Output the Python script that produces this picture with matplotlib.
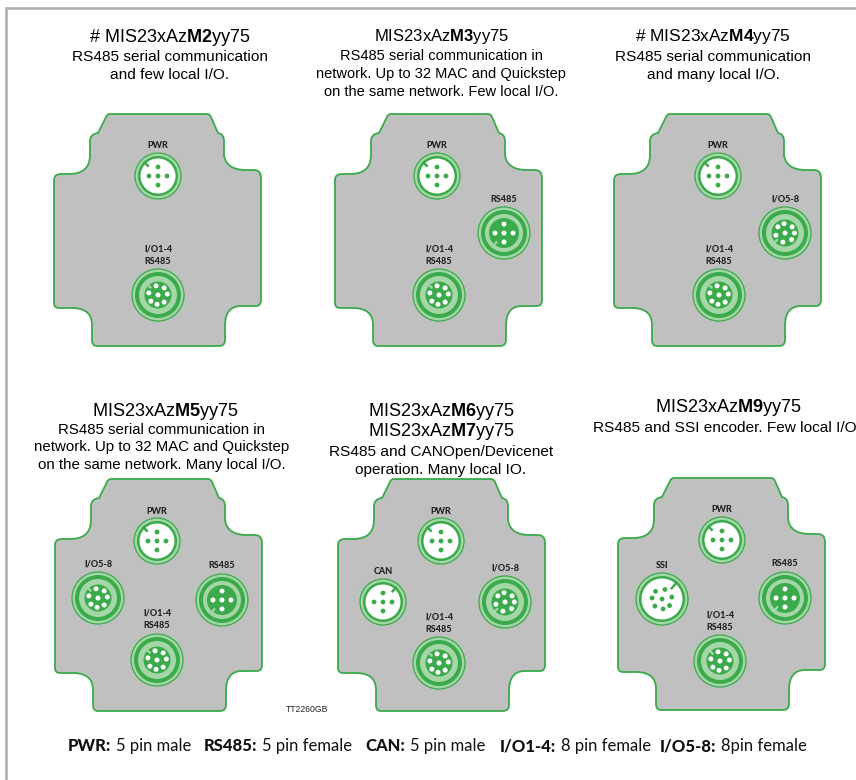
import matplotlib
matplotlib.use('Agg')
import matplotlib.pyplot as plt
import numpy as np
from matplotlib.patches import Circle, PathPatch
from matplotlib.path import Path

plt.rcParams['mathtext.fontset'] = 'custom'
plt.rcParams['mathtext.rm'] = 'Liberation Sans'
plt.rcParams['mathtext.bf'] = 'Liberation Sans:bold'

GREEN = '#3aaa4a'
LIGHT = '#a5d6a8'
PLATE = '#c0c0c0'
FRAME = '#b0b0b0'

# one block per motor variant: heading, description, plate corner
headings = [
    [('# MIS23xAz', 'M2', 'yy75')],
    [('MIS23xAz', 'M3', 'yy75')],
    [('# MIS23xAz', 'M4', 'yy75')],
    [('MIS23xAz', 'M5', 'yy75')],
    [('MIS23xAz', 'M6', 'yy75'), ('MIS23xAz', 'M7', 'yy75')],
    [('MIS23xAz', 'M9', 'yy75')],
]
descriptions = [
    ['RS485 serial communication', 'and few local I/O.'],
    ['RS485 serial communication in', 'network. Up to 32 MAC and Quickstep', 'on the same network. Few local I/O.'],
    ['RS485 serial communication', 'and many local I/O.'],
    ['RS485 serial communication in', 'network. Up to 32 MAC and Quickstep', 'on the same network. Many local I/O.'],
    ['RS485 and CANOpen/Devicenet', 'operation. Many local IO.'],
    ['RS485 and SSI encoder. Few local I/O'],
]
head_size = [13, 12, 12.5, 13.1, 13.1, 13.1]
desc_size = [11.1, 10.5, 11.1, 10.8, 11.1, 11.1]
head_x = [170, 442, 713, 166, 442, 729]
desc_x = [170, 441, 713, 162, 441, 725]
text_y = [37, 37, 37, 411, 411, 408]
desc_gap = [20, 19, 20, 18.5, 20.5, 20]
plate_x = [54, 335, 614, 55, 338, 618]
plate_y = [114, 114, 114, 479, 479, 478]

# connector name, pin layout, x and y on the plate
connectors = [
    [('PWR', 'm5', 104, 62), ('I/O1-4\nRS485', 'f8', 104, 181)],
    [('PWR', 'm5', 102, 62), ('RS485', 'f5', 169, 119), ('I/O1-4\nRS485', 'f8', 104, 181)],
    [('PWR', 'm5', 104, 62), ('I/O5-8', 'f8b', 171, 119), ('I/O1-4\nRS485', 'f8', 105, 181)],
    [('PWR', 'm5', 102, 62), ('I/O5-8', 'f8', 43, 119), ('RS485', 'f5', 167, 121), ('I/O1-4\nRS485', 'f8', 102, 181)],
    [('PWR', 'm5', 103, 62), ('CAN', 'm5c', 45, 123), ('I/O5-8', 'f8b', 167, 123), ('I/O1-4\nRS485', 'f8', 101, 184)],
    [('PWR', 'm5', 104, 62), ('SSI', 'm8', 44, 121), ('RS485', 'f5', 167, 120), ('I/O1-4\nRS485', 'f8', 102, 183)],
]

# pin angles round the centre pin, degrees clockwise from east on screen
pins_f8 = [-102, -49, -6, 49, 96, 139, 193]
pins_f8b = [-96, -41, 0, 45, 103, 166, 221]
pins_m8 = [-130, -73, -11, 41, 84, 135, 186]
notch_angle = {'m5': -135, 'm5c': -48, 'f5': 130, 'f8': -135, 'f8b': 138, 'm8': -48}

footer_names = ['PWR:', 'RS485:', 'CAN:', 'I/O1-4:', 'I/O5-8:']
footer_rest = ['5 pin male', '5 pin female', '5 pin male', '8 pin female', '8pin female']
footer_x = [68, 204, 365, 500, 660]


def plate_path(x0, y0):
    M, L, C = Path.MOVETO, Path.LINETO, Path.CURVE3
    v = [
        (56, 0, M), (153, 0, L), (156, 0, C), (157, 3, L), (164, 19, L), (170, 20, C), (170, 27, L),
        (170, 41, L), (172, 56, C), (192, 56, L), (200, 56, L), (207, 56, C), (207, 64, L),
        (207, 186, L), (207, 192, C), (202, 192, L), (187, 192, L), (171, 192, C), (171, 212, L),
        (171, 226, L), (171, 232, C), (165, 232, L), (43, 232, L), (38, 232, C), (38, 226, L),
        (38, 211, L), (38, 194, C), (18, 194, L), (5, 194, L), (0, 194, C), (0, 189, L),
        (0, 66, L), (0, 60, C), (7, 60, L), (15, 60, L), (36, 60, C), (36, 41, L),
        (36, 27, L), (36, 20, C), (44, 19, L), (52, 3, L), (53, 0, C), (56, 0, L),
    ]
    verts = [(x0 + a, y0 + b) for a, b, _ in v]
    return Path(verts, [c for _, _, c in v])


def pin_spots(kind):
    if kind in ('m5', 'm5c', 'f5'):
        return [(0, -9), (-9, 0), (0, 0), (9, 0), (0, 9)]
    angles = {'f8': pins_f8, 'f8b': pins_f8b, 'm8': pins_m8}[kind]
    r = 10 if kind == 'm8' else 9.4
    return [(0, 0)] + [(r * np.cos(np.deg2rad(a)), r * np.sin(np.deg2rad(a))) for a in angles]


def draw_connector(ax, cx, cy, kind):
    female = kind[0] == 'f'
    r = 23 if kind in ('m5', 'm5c') else 26
    k = r / 26
    # thin stray ticks outside the ring
    for (xa, ya, xb, yb) in ((15, -23, 22, -16), (-23, -15, -30, -8), (23, 14, 30, 7), (-12, 20, -4, 29)):
        ax.plot([cx + xa * k, cx + xb * k], [cy + ya * k, cy + yb * k], color=LIGHT, lw=0.8, zorder=3)
    ax.add_patch(Circle((cx, cy), r, fc=LIGHT, ec=GREEN, lw=0.9, zorder=4))
    ax.add_patch(Circle((cx, cy), r - 3, fc=GREEN, ec='none', zorder=5))
    t = np.deg2rad(notch_angle[kind])
    if female:
        core = 15 if kind == 'f5' else 13.5
        ax.add_patch(Circle((cx, cy), r - 7, fc=LIGHT, ec='none', zorder=6))
        ax.add_patch(Circle((cx, cy), core, fc=GREEN, ec='none', zorder=7))
        for dx, dy in pin_spots(kind):
            ax.add_patch(Circle((cx + dx, cy + dy), 2.5, fc='white', ec='none', zorder=8))
        ax.plot([cx + (core - 3) * np.cos(t), cx + core * np.cos(t)], [cy + (core - 3) * np.sin(t), cy + core * np.sin(t)],
                color=LIGHT, lw=1.6, zorder=8)
    else:
        ax.add_patch(Circle((cx, cy), r - 5.5, fc='white', ec='none', zorder=6))
        for dx, dy in pin_spots(kind):
            ax.add_patch(Circle((cx + dx, cy + dy), 2.4, fc=GREEN, ec='none', zorder=8))
        ax.plot([cx + 14.5 * np.cos(t), cx + (r - 4) * np.cos(t)], [cy + 14.5 * np.sin(t), cy + (r - 4) * np.sin(t)],
                color=GREEN, lw=1.8, zorder=8)


fig = plt.figure(figsize=(8.56, 7.8), dpi=100)
ax = fig.add_axes([0, 0, 1, 1])
ax.set_xlim(0, 856)
ax.set_ylim(780, 0)
ax.axis('off')

# page frame, only its left and top sides are in the picture
ax.plot([6, 6, 856], [780, 8, 8], color=FRAME, lw=1.9, solid_joinstyle='miter', zorder=1)

for i in range(len(headings)):
    y = text_y[i]
    for n, (before, bold, after) in enumerate(headings[i]):
        label = r'%s$\mathbf{%s}$%s' % (before, bold, after)
        ax.text(head_x[i], y + 20.5 * n, label, ha='center', va='center', fontsize=head_size[i],
                family='Liberation Sans', zorder=10)
    y += 20.5 * (len(headings[i]) - 1) + desc_gap[i]
    for line in descriptions[i]:
        ax.text(desc_x[i], y, line, ha='center', va='center', fontsize=desc_size[i], family='Liberation Sans',
                zorder=10)
        y += 18
    x0, y0 = plate_x[i], plate_y[i]
    ax.add_patch(PathPatch(plate_path(x0, y0), fc=PLATE, ec=GREEN, lw=1.3, zorder=2))
    for name, kind, cx, cy in connectors[i]:
        draw_connector(ax, x0 + cx, y0 + cy, kind)
        gap = 30 if kind in ('m5', 'm5c') else 34
        lines = name.split('\n')
        for n, line in enumerate(reversed(lines)):
            ax.text(x0 + cx, y0 + cy - gap - 12.5 * n, line, ha='center', va='center', fontsize=6.5,
                    fontweight='black', family='Lato', color='#222222', zorder=10)

ax.text(307, 710, 'TT2260GB', ha='center', va='center', fontsize=6.2, family='Liberation Sans', color='#222222')

# footer groups start where the reference has them; the plain text follows the bold name
renderer = fig.canvas.get_renderer()
for name, rest, x in zip(footer_names, footer_rest, footer_x):
    t = ax.text(x, 746, name, ha='left', va='center', fontsize=12, fontweight='black', family='Lato', color='#111111')
    w = t.get_window_extent(renderer).width
    ax.text(x + w + 5, 746, rest, ha='left', va='center', fontsize=12, family='Lato', color='#111111')

fig.savefig('out.png', dpi=100)
